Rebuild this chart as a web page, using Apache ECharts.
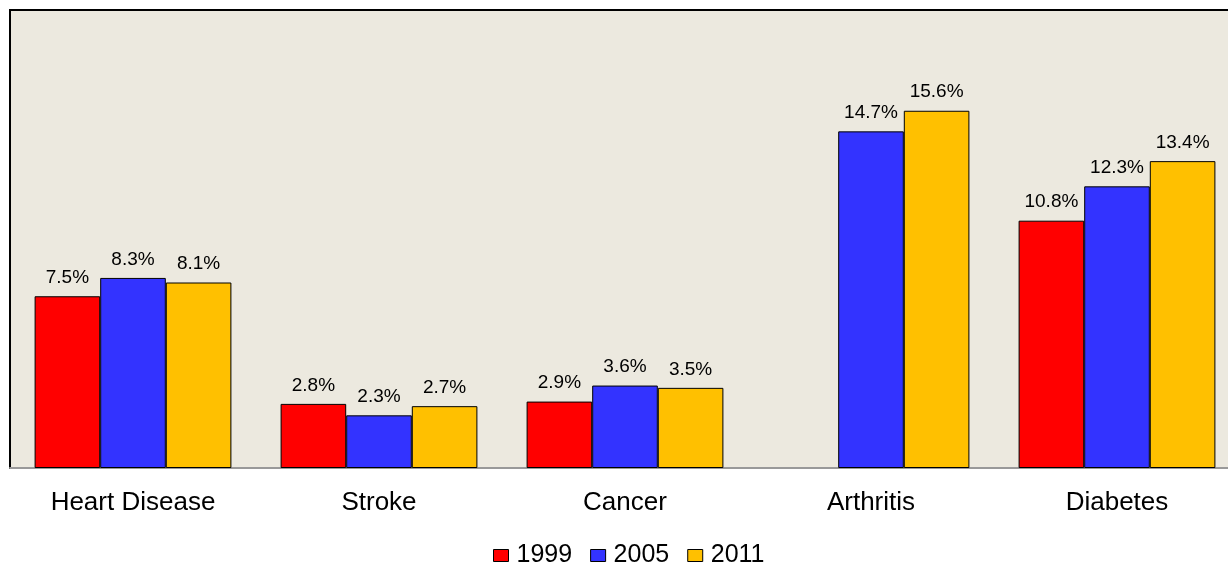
<!DOCTYPE html>
<html>
<head>
<meta charset="utf-8">
<script src="https://cdn.jsdelivr.net/npm/echarts@6/dist/echarts.min.js"></script>
<style>html,body{margin:0;padding:0;background:#fff;overflow:hidden;}#c{width:1228px;height:570px;}</style>
</head>
<body>
<div id="c"></div>
<script>
const categories = ['Heart Disease', 'Stroke', 'Cancer', 'Arthritis', 'Diabetes'];
const years = ['1999', '2005', '2011'];
const v1999 = [7.5, 2.8, 2.9, null, 10.8];
const v2005 = [8.3, 2.3, 3.6, 14.7, 12.3];
const v2011 = [8.1, 2.7, 3.5, 15.6, 13.4];
const colors = ['#FF0000', '#3333FF', '#FFC000'];

const font = '"Liberation Sans", Arial, sans-serif';
const chart = echarts.init(document.getElementById('c'), null, {renderer: 'canvas'});
function mk(name, data, color) {
  return {
    name: name, type: 'bar', data: data, barGap: '0%', barCategoryGap: '20%',
    itemStyle: {color: color, borderColor: '#000', borderWidth: 1},
    label: {show: true, position: 'top', distance: 9, color: '#000', fontSize: 19, fontFamily: font,
      formatter: p => p.value == null ? '' : p.value.toFixed(1) + '%'},
    emphasis: {disabled: true}, animation: false
  };
}
chart.setOption({
  animation: false,
  grid: {left: 10, top: 10, width: 1230, height: 458, outerBoundsMode: 'none', containLabel: false,
    show: true, backgroundColor: '#ECE9DF', borderColor: '#000', borderWidth: 2},
  legend: {
    data: years, left: 488, top: 538, itemWidth: 15, itemHeight: 12, itemGap: 18,
    icon: 'rect',
    textStyle: {fontSize: 25, color: '#000', fontFamily: font, padding: [0, 0, 0, 3]},
    itemStyle: {borderColor: '#000', borderWidth: 1}
  },
  xAxis: {
    type: 'category', data: categories,
    axisLine: {show: true, lineStyle: {color: '#999', width: 2}},
    axisTick: {show: false},
    axisLabel: {fontSize: 26, color: '#000', fontFamily: font, margin: 22},
    splitLine: {show: false}
  },
  yAxis: {type: 'value', min: 0, max: 20, show: false, splitLine: {show: false}},
  series: [mk(years[0], v1999, colors[0]), mk(years[1], v2005, colors[1]), mk(years[2], v2011, colors[2])]
});
</script>
</body>
</html>
